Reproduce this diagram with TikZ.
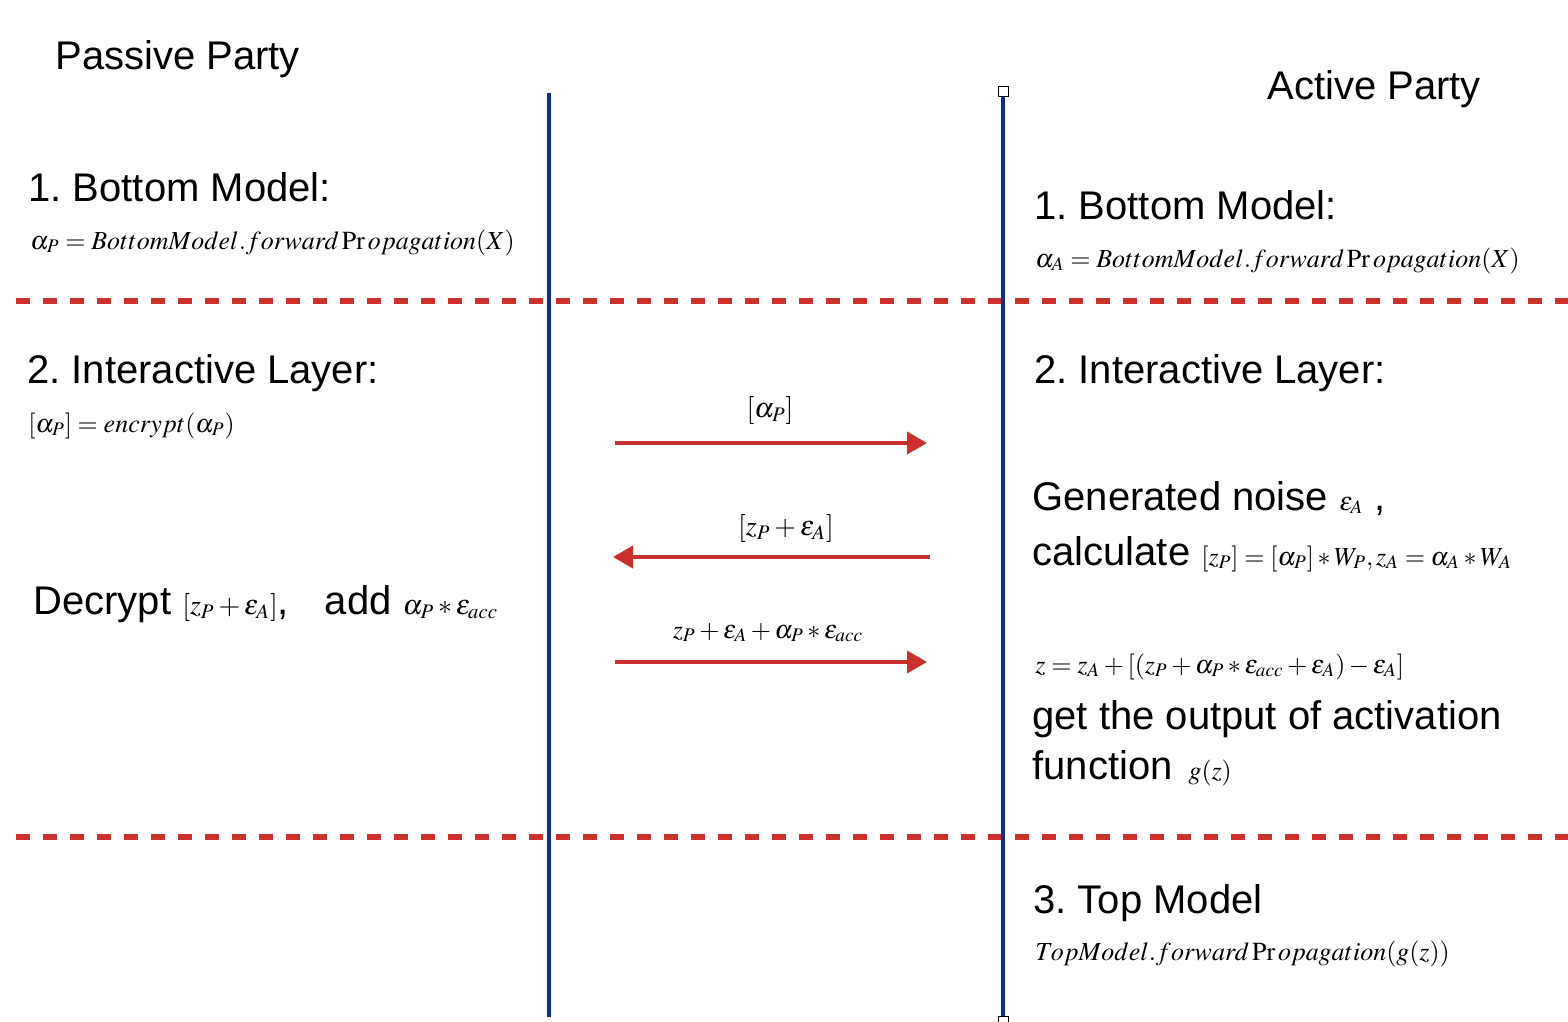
\documentclass[tikz,border=0pt]{standalone}
\usepackage{mathptmx}
\usepackage[no-math]{fontspec}
\setmainfont{Liberation Sans}
\usetikzlibrary{arrows.meta}
\definecolor{lineblue}{RGB}{13,46,138}
\definecolor{dashred}{RGB}{204,48,44}
\frenchspacing
\begin{document}
\begin{tikzpicture}[x=0.5pt,y=-0.5pt,
  txt/.style={anchor=base west,inner sep=0pt,font=\fontsize{20}{24}\selectfont},
  eq/.style={anchor=base west,inner sep=0pt,font=\fontsize{13}{15}\selectfont},
  eqc/.style={anchor=base,inner sep=0pt,font=\fontsize{13}{15}\selectfont},
  sep/.style={draw=dashred,line width=3pt,dash pattern=on 7pt off 6.5pt},
  party/.style={draw=lineblue,line width=2.4pt},
  msg/.style={draw=dashred,line width=2pt,-{Triangle[length=10pt,width=11pt]}},
  handle/.style={draw=black,fill=white,line width=0.5pt,minimum size=5pt,inner sep=0pt}]
\useasboundingbox (0,0) rectangle (1568,1022);

% separators
\coordinate (s1a) at (16,301); \coordinate (s1b) at (1568,301);
\coordinate (s2a) at (16,837); \coordinate (s2b) at (1568,837);
\draw[sep] (s1a) -- (s1b);
\draw[sep] (s2a) -- (s2b);

% party lines
\coordinate (pt) at (549,93); \coordinate (pb) at (549,1017);
\draw[party] (pt) -- (pb);
\node[handle] (ht) at (1003,92) {};
\node[handle] (hb) at (1003,1021) {};
\draw[party] (ht.south) -- (hb.north);

% headers
\node[txt] (hp) at (55,70) {Passive Party};
\node[txt] (ha) at (1267,100) {Active Party};

% left column
\node[txt] (l1) at (28,201) {1. Bottom Model:};
\node[eq] (l1e) at (30,249) {$\alpha_{P} = BottomModel.forward\Pr opagation(X)$};
\node[txt] (l2) at (27,383) {2. Interactive Layer:};
\node[eq] (l2e) at (28,432) {$[\alpha_{P}]=encrypt(\alpha_{P})$};
\node[txt] (l3) at (33,614) {Decrypt {\fontsize{14}{16}\selectfont$[z_{P}+\varepsilon_{A}]$},\hspace{18pt}add {\fontsize{14}{16}\selectfont$\alpha_{P}*\varepsilon_{acc}$}};

% right column
\node[txt] (r1) at (1034,219) {1. Bottom Model:};
\node[eq] (r1e) at (1035,267) {$\alpha_{A} = BottomModel.forward\Pr opagation(X)$};
\node[txt] (r2) at (1034,383) {2. Interactive Layer:};
\node[txt] (r3) at (1032,510) {Generated noise {\fontsize{13}{15}\selectfont$\varepsilon_{A}$} ,};
\node[txt] (r4) at (1032,565) {calculate {\fontsize{13}{15}\selectfont$[z_{P}]=[\alpha_{P}]*W_{P},z_{A}=\alpha_{A}*W_{A}$}};
\node[eq] (r5) at (1035,673) {$z=z_{A}+[(z_{P}+\alpha_{P}*\varepsilon_{acc}+\varepsilon_{A})-\varepsilon_{A}]$};
\node[txt] (r6) at (1032,729) {get the output of activation};
\node[txt] (r7) at (1032,779) {function\hspace{8pt}{\fontsize{13}{15}\selectfont$g(z)$}};
\node[txt] (r8) at (1033,913) {3. Top Model};
\node[eq] (r9) at (1035,960) {$TopModel.forward\Pr opagation(g(z))$};

% messages
\coordinate (m1s) at (615,443); \coordinate (m1e) at (927,443);
\coordinate (m2s) at (930,557); \coordinate (m2e) at (613,557);
\coordinate (m3s) at (615,662); \coordinate (m3e) at (927,662);
\draw[msg] (m1s) -- (m1e);
\draw[msg] (m2s) -- (m2e);
\draw[msg] (m3s) -- (m3e);
\node[eqc,font=\fontsize{14}{16}\selectfont] (m1l) at (770,417) {$[\alpha_{P}]$};
\node[eqc,font=\fontsize{14}{16}\selectfont] (m2l) at (786,535) {$[z_{P}+\varepsilon_{A}]$};
\node[eqc] (m3l) at (768,638) {$z_{P}+\varepsilon_{A}+\alpha_{P}*\varepsilon_{acc}$};
\end{tikzpicture}
\end{document}
